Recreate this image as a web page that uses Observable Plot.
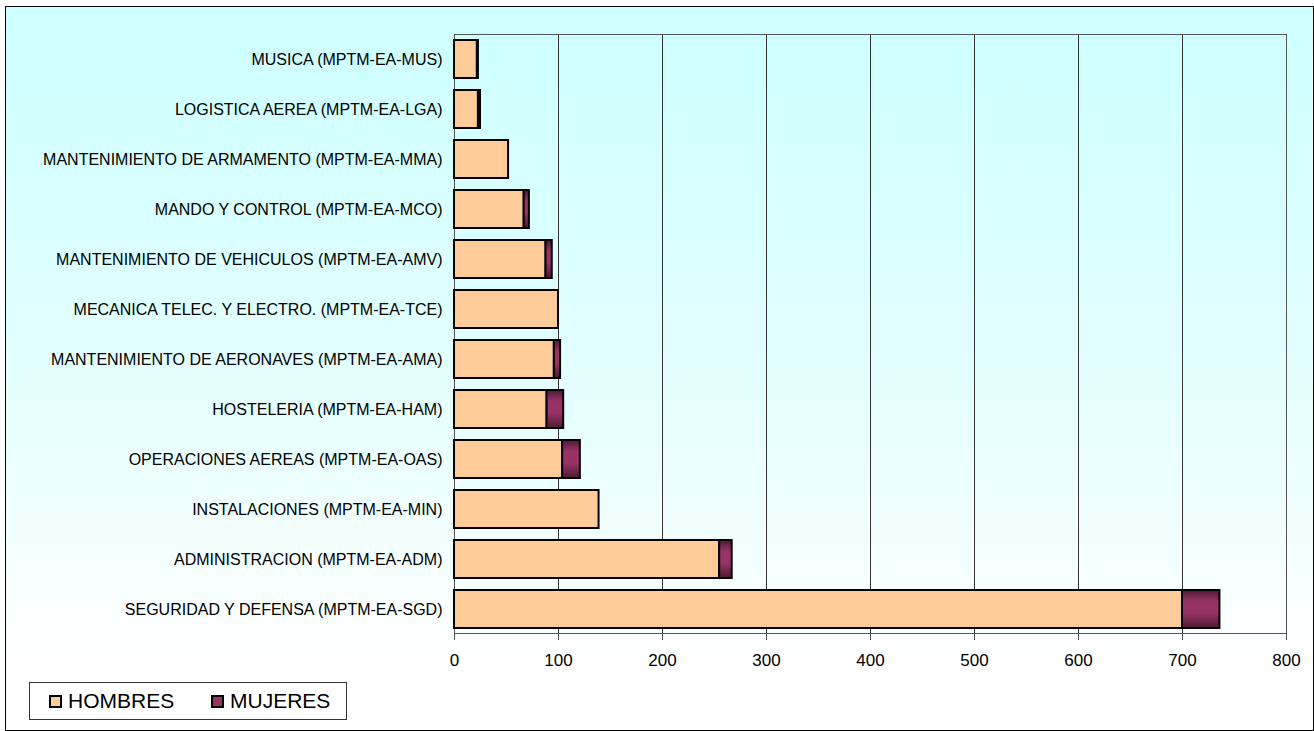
<!DOCTYPE html>
<html>
<head>
<meta charset="utf-8">
<script src="https://cdn.jsdelivr.net/npm/d3@7"></script>
<script src="https://cdn.jsdelivr.net/npm/@observablehq/plot@0.6"></script>
<style>
  html, body { margin: 0; padding: 0; background: #fff; }
  #wrap { position: relative; width: 1314px; height: 731px; overflow: hidden; font-family: "Liberation Sans", Arial, sans-serif; }
  #box { position: absolute; left: 5px; top: 6px; width: 1307px; height: 723px; border: 1px solid #000;
         background: linear-gradient(to bottom, #ccffff 0%, #e6ffff 55%, #ffffff 90%); }
  #chart { position: absolute; left: 0; top: 0; }
  #legend { position: absolute; left: 29px; top: 682px; width: 316px; height: 36px; border: 1px solid #333; background: #fff;
            font-size: 21px; color: #000; }
  .sw { position: absolute; top: 12px; width: 9px; height: 9px; border: 2px solid #000; }
  .lt { position: absolute; top: 6px; line-height: 24px; }
</style>
</head>
<body>
<div id="wrap">
  <div id="box"></div>
  <div id="chart"></div>
  <div id="legend"></div>
</div>
<script>
const categories = [
  "MUSICA (MPTM-EA-MUS)",
  "LOGISTICA AEREA (MPTM-EA-LGA)",
  "MANTENIMIENTO DE ARMAMENTO (MPTM-EA-MMA)",
  "MANDO Y CONTROL (MPTM-EA-MCO)",
  "MANTENIMIENTO DE VEHICULOS (MPTM-EA-AMV)",
  "MECANICA TELEC. Y ELECTRO. (MPTM-EA-TCE)",
  "MANTENIMIENTO DE AERONAVES (MPTM-EA-AMA)",
  "HOSTELERIA (MPTM-EA-HAM)",
  "OPERACIONES AEREAS (MPTM-EA-OAS)",
  "INSTALACIONES (MPTM-EA-MIN)",
  "ADMINISTRACION (MPTM-EA-ADM)",
  "SEGURIDAD Y DEFENSA (MPTM-EA-SGD)"
];
const hombres = [22, 23, 52, 67, 88, 100, 96, 89, 104, 139, 255, 700];
const mujeres = [1, 2, 0, 5, 6, 0, 6, 16, 17, 0, 12, 36];
const seriesNames = ["HOMBRES", "MUJERES"];
const seriesColors = ["#ffcc99", "url(#mujGrad)"];
const xTicks = [0, 100, 200, 300, 400, 500, 600, 700, 800];

const rows = [];
categories.forEach((c, i) => {
  rows.push({cat: c, series: "HOMBRES", value: hombres[i]});
  rows.push({cat: c, series: "MUJERES", value: mujeres[i]});
});

const chart = Plot.plot({
  width: 1314,
  height: 731,
  marginLeft: 454,
  marginRight: 28,
  marginTop: 34,
  marginBottom: 98,
  style: {background: "transparent", fontFamily: "Liberation Sans, Arial, sans-serif", color: "#000"},
  x: {domain: [0, 800], ticks: xTicks, label: null},
  y: {domain: categories, label: null, paddingInner: 0.24, paddingOuter: 0.1},
  color: {domain: seriesNames, range: seriesColors},
  marks: [
    Plot.gridX(xTicks, {stroke: "#333", strokeOpacity: 1}),
    Plot.frame({stroke: "#555"}),
    Plot.barX(rows, {y: "cat", x: "value", fill: "series", stroke: "#000", strokeWidth: 2}),
    Plot.axisX({ticks: xTicks, tickSize: 7, tickPadding: 13, fontSize: 17, label: null, stroke: "#555"}),
    Plot.axisY({tickSize: 0, tickPadding: 12, fontSize: 16, label: null})
  ]
});

// gradient for MUJERES bars
const ns = "http://www.w3.org/2000/svg";
const defs = document.createElementNS(ns, "defs");
defs.innerHTML = `<linearGradient id="mujGrad" x1="0" y1="0" x2="0" y2="1">
  <stop offset="0" stop-color="#4d1a33"/>
  <stop offset="0.3" stop-color="#993366"/>
  <stop offset="0.6" stop-color="#993366"/>
  <stop offset="1" stop-color="#4d1a33"/>
</linearGradient>`;
chart.insertBefore(defs, chart.firstChild);
document.getElementById("chart").appendChild(chart);

// legend
const lg = document.getElementById("legend");
const swLeft = [19, 181];
seriesNames.forEach((s, i) => {
  const sw = document.createElement("div");
  sw.className = "sw";
  sw.style.left = swLeft[i] + "px";
  sw.style.background = i === 0 ? "#ffcc99" : "#993366";
  const t = document.createElement("span");
  t.className = "lt";
  t.style.left = (swLeft[i] + 19) + "px";
  t.textContent = s;
  lg.appendChild(sw); lg.appendChild(t);
});
</script>
</body>
</html>
